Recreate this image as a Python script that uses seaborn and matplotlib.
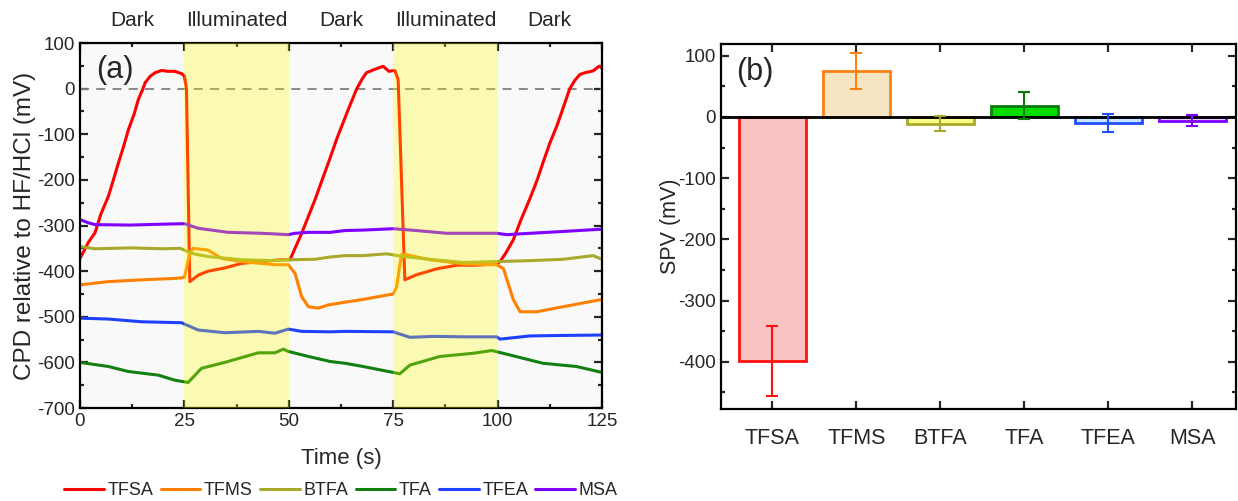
import numpy as np
import pandas as pd
import matplotlib
matplotlib.use("Agg")
import matplotlib.pyplot as plt
from matplotlib.ticker import MultipleLocator
import seaborn as sns

# series: time (s) and CPD (mV)
tfsa_t = [0, 1, 2, 3.6, 5, 6.8, 8, 9.2, 10.5, 11.6, 13, 14, 15, 15.6, 16.8, 18, 19.6, 21, 22.7, 24.3,
          25, 25.5, 26.3, 27, 28.5, 30.7, 34.7, 38.7, 43.5, 48.3, 50.3, 51.5, 53.1, 56.3, 58, 59.9,
          61.5, 63, 64.5, 66.3, 67.5, 68.6, 70.5, 72.6, 74, 75.4, 76.2, 77.8, 80.6, 85.4, 90.2, 95,
          99.8, 100.6, 102, 103.8, 105.5, 107.8, 109.5, 110.9, 112.5, 114.2, 115.8, 117.3, 118.5,
          119.7, 121, 122.9, 124, 124.5, 125]
tfsa_v = [-372, -355, -337, -316, -275, -236, -200, -163, -125, -90, -55, -23, -2, 13, 27, 35, 40, 38, 38, 33,
          28, 0, -423, -418, -408, -400, -393, -383, -379, -375, -375, -350, -317, -243, -200, -152,
          -110, -75, -40, 0, 20, 35, 42, 49, 38, 40, 20, -419, -408, -395, -387, -387,
          -384, -379, -360, -331, -290, -240, -200, -162, -120, -82, -40, 0, 18,
          31, 35, 39, 47, 49, 45]

tfms_t = [0, 6.8, 14.8, 22.7, 25, 26.3, 27.1, 30.7, 33.9, 38.7, 46.7, 49.9, 51.5, 53.1, 54.7, 57.1,
          59.5, 63.5, 67.8, 75, 75.8, 77, 78.2, 83.8, 91.8, 99.8, 101.4, 103.8, 105.4, 109.4, 115.7, 125]
tfms_v = [-430, -423, -419, -416, -414, -361, -350, -354, -372, -379, -386, -386, -405, -456, -478, -481,
          -474, -468, -462, -450, -436, -364, -364, -375, -384, -386, -394, -463, -489, -489, -478, -462]

btfa_t = [0, 3.6, 12, 20, 24, 26.7, 30.7, 38.7, 46.7, 50.3, 56.3, 59.9, 63.5, 67.8, 73.4, 77.4,
          83.8, 91.8, 99.8, 107.8, 115.7, 122.9, 125]
btfa_v = [-346, -351, -349, -351, -350, -361, -368, -375, -377, -375, -374, -369, -366, -366, -362, -368,
          -374, -381, -379, -377, -374, -366, -374]

tfa_t = [0, 6.8, 11.6, 18.8, 22.7, 25.9, 29.1, 34.7, 42.7, 46.7, 48.7, 49.9, 54.7, 59.9, 63.5, 67.8,
         75, 76.6, 79, 86.2, 94.2, 98.6, 102.2, 110.9, 118.9, 125]
tfa_v = [-600, -609, -620, -628, -639, -644, -613, -600, -579, -579, -571, -576, -587, -598, -602, -609,
         -622, -625, -606, -587, -580, -574, -582, -602, -609, -622]

tfea_t = [0, 6.8, 14.8, 24.3, 28.3, 34.7, 42.7, 46.7, 49.9, 53.1, 59.9, 63.5, 75, 79, 85, 91.8,
          99.8, 100.6, 107.8, 115, 125]
tfea_v = [-503, -505, -511, -513, -529, -535, -532, -536, -527, -532, -533, -532, -533, -545, -543, -544,
          -544, -549, -542, -541, -540]

msa_t = [0, 2, 3.6, 12, 20, 25, 28.3, 35.5, 43.5, 49.9, 51.5, 54.7, 59.9, 63.5, 67.8, 75, 80.6,
         87.8, 99.8, 102.2, 107.8, 115.7, 125]
msa_v = [-287, -294, -298, -299, -297, -296, -306, -315, -317, -320, -317, -315, -315, -311, -310, -307, -311,
         -317, -317, -320, -317, -313, -308]

# panel (b): SPV bars
acids = ["TFSA", "TFMS", "BTFA", "TFA", "TFEA", "MSA"]
spv = [-398, 75, -11, 18, -10, -6]
spv_err = [57, 29, 12, 22, 15, 9]

phases = ["Dark", "Illuminated", "Dark", "Illuminated", "Dark"]

line_colors = ["#ff0000", "#ff8000", "#a8a82a", "#118011", "#1f3fff", "#8000ff"]
edge_colors = ["#ff1010", "#ff8010", "#a8a82a", "#0b7a0b", "#1f4fff", "#8000ff"]
fill_colors = ["#f9c2c2", "#f6e6c3", "#fafa88", "#00dd00", "#c7e3ff", "#e2ccff"]

series = {"TFSA": (tfsa_t, tfsa_v), "TFMS": (tfms_t, tfms_v), "BTFA": (btfa_t, btfa_v),
          "TFA": (tfa_t, tfa_v), "TFEA": (tfea_t, tfea_v), "MSA": (msa_t, msa_v)}
df = pd.concat([pd.DataFrame({"t": t, "v": v, "acid": k}) for k, (t, v) in series.items()])

sns.set_style("ticks")
plt.rcParams["font.family"] = ["Liberation Sans", "DejaVu Sans"]
plt.rcParams["axes.linewidth"] = 1.6
plt.rcParams["axes.unicode_minus"] = False

fig = plt.figure(figsize=(12.38, 5.01), dpi=100)
ax = fig.add_axes([0.0646, 0.1856, 0.4216, 0.7285])
ax2 = fig.add_axes([0.5824, 0.1836, 0.4160, 0.7285])

# ---- (a) time traces
ax.set_facecolor("#f9f9f9")
sns.lineplot(data=df, x="t", y="v", hue="acid", hue_order=acids, palette=line_colors,
             estimator=None, sort=False, lw=2.2, ax=ax)
ax.axvspan(25, 50, color="#ffff00", alpha=0.28, lw=0, zorder=5)
ax.axvspan(75, 100, color="#ffff00", alpha=0.28, lw=0, zorder=5)
ax.axhline(0, color="gray", ls=(0, (5, 4)), lw=1.3, zorder=1)
ax.set_xlim(0, 125)
ax.set_ylim(-700, 100)
ax.xaxis.set_major_locator(MultipleLocator(25))
ax.xaxis.set_minor_locator(MultipleLocator(12.5))
ax.yaxis.set_major_locator(MultipleLocator(100))
ax.yaxis.set_minor_locator(MultipleLocator(50))
ax.set_xlabel("Time (s)", fontsize=16, labelpad=13)
ax.set_ylabel("CPD relative to HF/HCl (mV)", fontsize=17.5, labelpad=1)
ax.text(0.03, 0.925, "(a)", transform=ax.transAxes, fontsize=22, va="center", ha="left")
for i, ph in enumerate(phases):
    ax.text(12.5 + 25 * i, 1.063, ph, transform=ax.get_xaxis_transform(),
            ha="center", va="center", fontsize=15)

handles, labels = ax.get_legend_handles_labels()
ax.get_legend().remove()
fig.legend(handles, labels, loc="center", bbox_to_anchor=(0.2755, 0.02), ncol=6, frameon=False,
           fontsize=13, handlelength=2.2, handletextpad=0.2, columnspacing=0.4)

# ---- (b) SPV bars
sns.barplot(x=acids, y=spv, hue=acids, palette=fill_colors, legend=False, width=0.8,
            saturation=1, errorbar=None, ax=ax2, zorder=2)
for bar, ec in zip(ax2.patches, edge_colors):
    bar.set_edgecolor(ec)
    bar.set_linewidth(2)
for i in range(len(acids)):
    ax2.errorbar(i, spv[i], yerr=spv_err[i], fmt="none", ecolor=edge_colors[i],
                 elinewidth=1.5, capsize=4, capthick=1.5, zorder=4)
ax2.axhline(0, color="black", lw=2, zorder=3)
ax2.set_xlim(-0.61, 5.52)
ax2.set_ylim(-477, 119)
ax2.yaxis.set_major_locator(MultipleLocator(100))
ax2.yaxis.set_minor_locator(MultipleLocator(50))
ax2.set_ylabel("SPV (mV)", fontsize=15.5, labelpad=-2)
ax2.text(0.03, 0.923, "(b)", transform=ax2.transAxes, fontsize=22, va="center", ha="left")

for a in (ax, ax2):
    a.tick_params(which="both", direction="in", top=True, right=True, width=1.6)
    a.tick_params(which="major", length=6, labelsize=13.5)
    a.tick_params(which="minor", length=3)
    for s in a.spines.values():
        s.set_color("black")
ax2.tick_params(axis="x", which="major", pad=14, labelsize=15.5)
ax2.tick_params(axis="x", which="minor", bottom=False, top=False)

fig.savefig("out.png", dpi=100)
